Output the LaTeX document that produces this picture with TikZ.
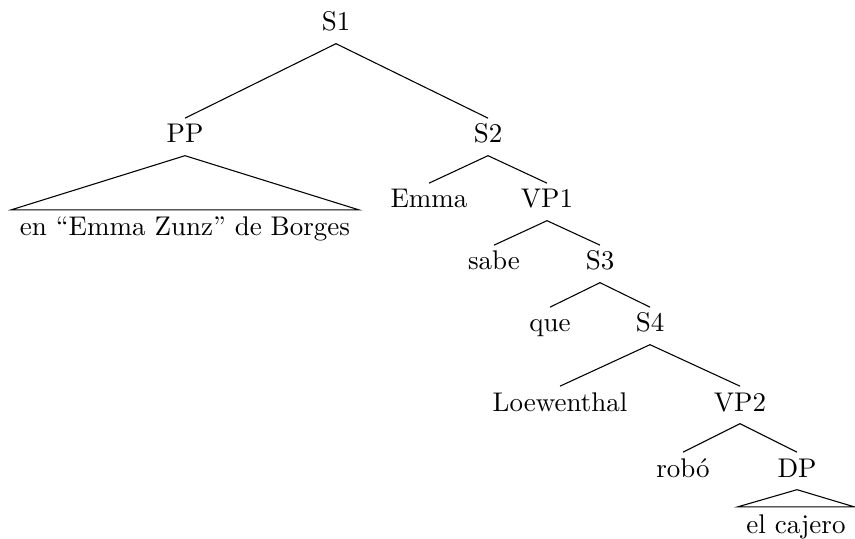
\documentclass[tikz,border=0pt]{standalone}
\usepackage{tikz}

\begin{document}
\begin{tikzpicture}[x=0.3704pt,y=-0.3704pt,
  cat/.style={anchor=base,inner sep=2.5pt,text height=6.5pt,text depth=2pt},
  roof/.style={cat,inner sep=3pt},
  branch/.style={draw,line join=miter}]
  \useasboundingbox (0,0) rectangle (855,539);
  % upper part of the tree
  \node[cat] (s1) at (336,31) {S1};
  \node[cat] (pp) at (185,143) {PP};
  \node[roof] (ppt) at (185,236) {en ``Emma Zunz'' de Borges};
  \node[cat] (s2) at (488,143) {S2};
  \node[cat] (emma) at (429,208) {Emma};
  \node[cat] (vp1) at (547,208) {VP1};
  \node[cat] (sabe) at (494,270) {sabe};
  \node[cat] (s3) at (600,270) {S3};
  \node[cat] (que) at (550,332) {que};
  \node[cat] (s4) at (650,332) {S4};
  % lower part
  \node[cat] (loew) at (560,411) {Loewenthal};
  \node[cat] (vp2) at (740,411) {VP2};
  \node[cat] (robo) at (683,477) {robó};
  \node[cat] (dp) at (797,477) {DP};
  \node[roof] (dpt) at (796,533) {el cajero};
  \draw[branch] (s1.south) -- (pp.north);
  \draw[branch] (s1.south) -- (s2.north);
  \draw[branch] (pp.south) -- (ppt.north west) -- (ppt.north east) -- cycle;
  \draw[branch] (s2.south) -- (emma.north);
  \draw[branch] (s2.south) -- (vp1.north);
  \draw[branch] (vp1.south) -- (sabe.north);
  \draw[branch] (vp1.south) -- (s3.north);
  \draw[branch] (s3.south) -- (que.north);
  \draw[branch] (s3.south) -- (s4.north);
  \draw[branch] (s4.south) -- (loew.north);
  \draw[branch] (s4.south) -- (vp2.north);
  \draw[branch] (vp2.south) -- (robo.north);
  \draw[branch] (vp2.south) -- (dp.north);
  \draw[branch] (dp.south) -- (dpt.north west) -- (dpt.north east) -- cycle;
\end{tikzpicture}
\end{document}
